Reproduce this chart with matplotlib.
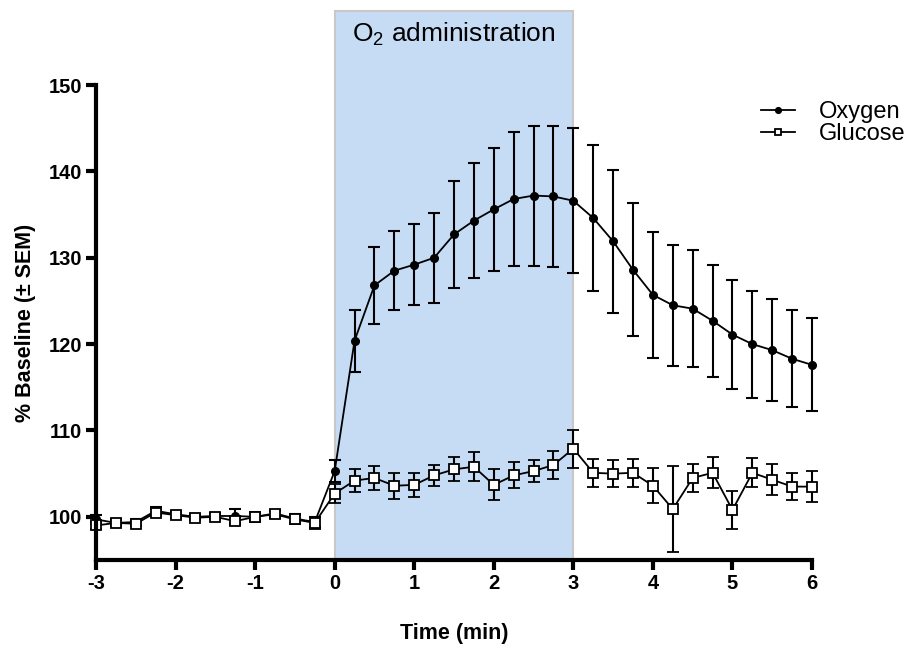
import numpy as np
import matplotlib
matplotlib.use("Agg")
import matplotlib.pyplot as plt
import matplotlib.transforms as mtransforms
from matplotlib.patches import Rectangle

plt.rcParams['font.family'] = ['Liberation Sans', 'DejaVu Sans']
plt.rcParams['mathtext.fontset'] = 'custom'
plt.rcParams['mathtext.rm'] = 'Liberation Sans'
plt.rcParams['axes.unicode_minus'] = False

# Time points (min), sampled every 15 s
time_min = np.arange(-3, 6.001, 0.25)

oxygen_mean = [99.7, 99.3, 99.4, 100.7, 100.3, 100.0, 100.1, 100.1, 100.0, 100.4, 99.8, 99.4,
               105.3, 120.4, 126.8, 128.5, 129.2, 130.0, 132.7, 134.3, 135.6, 136.8, 137.2, 137.1,
               136.6, 134.6, 131.9, 128.6, 125.7, 124.5, 124.1, 122.7, 121.1, 120.0, 119.3, 118.3, 117.6]
oxygen_sem = [0.5, 0.4, 0.4, 0.4, 0.4, 0.3, 0.3, 0.8, 0.4, 0.4, 0.5, 0.6,
              1.3, 3.6, 4.5, 4.6, 4.7, 5.2, 6.2, 6.7, 7.1, 7.8, 8.1, 8.2,
              8.4, 8.5, 8.3, 7.7, 7.3, 7.0, 6.8, 6.5, 6.3, 6.2, 5.9, 5.6, 5.4]

glucose_mean = [99.0, 99.3, 99.2, 100.5, 100.2, 99.9, 100.0, 99.5, 100.0, 100.3, 99.7, 99.3,
                102.7, 104.2, 104.5, 103.6, 103.7, 104.8, 105.5, 105.8, 103.7, 104.8, 105.3, 106.0,
                107.9, 105.1, 105.0, 105.1, 103.6, 100.9, 104.5, 105.1, 100.8, 105.1, 104.3, 103.5, 103.5]
glucose_sem = [0.4, 0.3, 0.3, 0.4, 0.3, 0.3, 0.3, 0.5, 0.6, 0.4, 0.5, 0.7,
               1.15, 1.3, 1.4, 1.5, 1.4, 1.2, 1.4, 1.7, 1.8, 1.5, 1.3, 1.6,
               2.2, 1.6, 1.6, 1.6, 2.0, 5.0, 1.6, 1.8, 2.2, 1.7, 1.8, 1.6, 1.8]

series_names = ['Oxygen', 'Glucose']
x_ticks = [-3, -2, -1, 0, 1, 2, 3, 4, 5, 6]
y_ticks = [100, 110, 120, 130, 140, 150]
o2_window = (0, 3)

fig = plt.figure(figsize=(9.16, 6.49), dpi=100)
ax = fig.add_axes([0.1048, 0.1371, 0.7817, 0.7319])

# Shaded O2 administration window, extending above the plot area
trans = mtransforms.blended_transform_factory(ax.transData, ax.transAxes)
ax.add_patch(Rectangle((o2_window[0], 0), o2_window[1] - o2_window[0], 1.1564,
                       transform=trans, facecolor='#C6DCF5', edgecolor='#C8C8C8',
                       linewidth=1.5, clip_on=False, zorder=0))
ax.text((o2_window[0] + o2_window[1]) / 2, 1.091, r'O$_2$ administration',
        transform=trans, ha='center', va='baseline', fontsize=19)

series = [
    (oxygen_mean, oxygen_sem, dict(marker='o', ms=5.5, mfc='black', mec='black'), 3),
    (glucose_mean, glucose_sem, dict(marker='s', ms=6.5, mfc='white', mec='black', mew=1.3), 4),
]
handles = []
for (mean, sem, mstyle, z), name in zip(series, series_names):
    cont = ax.errorbar(time_min, mean, yerr=sem, color='black', lw=1.3,
                       elinewidth=1.5, capsize=4.5, capthick=1.5,
                       zorder=z, **mstyle)
    line, caps, bars = cont.lines
    line.set_clip_on(False)
    for c in caps:
        c.set_clip_on(False)
    for b in bars:
        b.set_clip_on(False)
    handles.append(line)

ax.set_xlim(-3, 6)
ax.set_ylim(95, 150)
ax.set_xticks(x_ticks)
ax.set_yticks(y_ticks)

for side in ('top', 'right'):
    ax.spines[side].set_visible(False)
for side in ('left', 'bottom'):
    ax.spines[side].set_linewidth(3)
    ax.spines[side].set_zorder(5)
ax.tick_params(axis='both', direction='out', length=7, width=3, labelsize=14.5, pad=3)
for lab in ax.get_xticklabels() + ax.get_yticklabels():
    lab.set_fontweight('bold')

ax.set_xlabel('Time (min)', fontsize=15.5, fontweight='bold', labelpad=22)
ax.set_ylabel('% Baseline (± SEM)', fontsize=15.5, fontweight='bold', labelpad=9)

ax.legend(handles, series_names, loc='upper left',
          bbox_to_anchor=(761 / 916, 1 - 101 / 649), bbox_transform=fig.transFigure,
          frameon=False, fontsize=17, markerscale=0.75,
          handlelength=1.45, handletextpad=1.0, labelspacing=0.0, borderpad=0,
          borderaxespad=0)

fig.savefig('out.png', dpi=100)
